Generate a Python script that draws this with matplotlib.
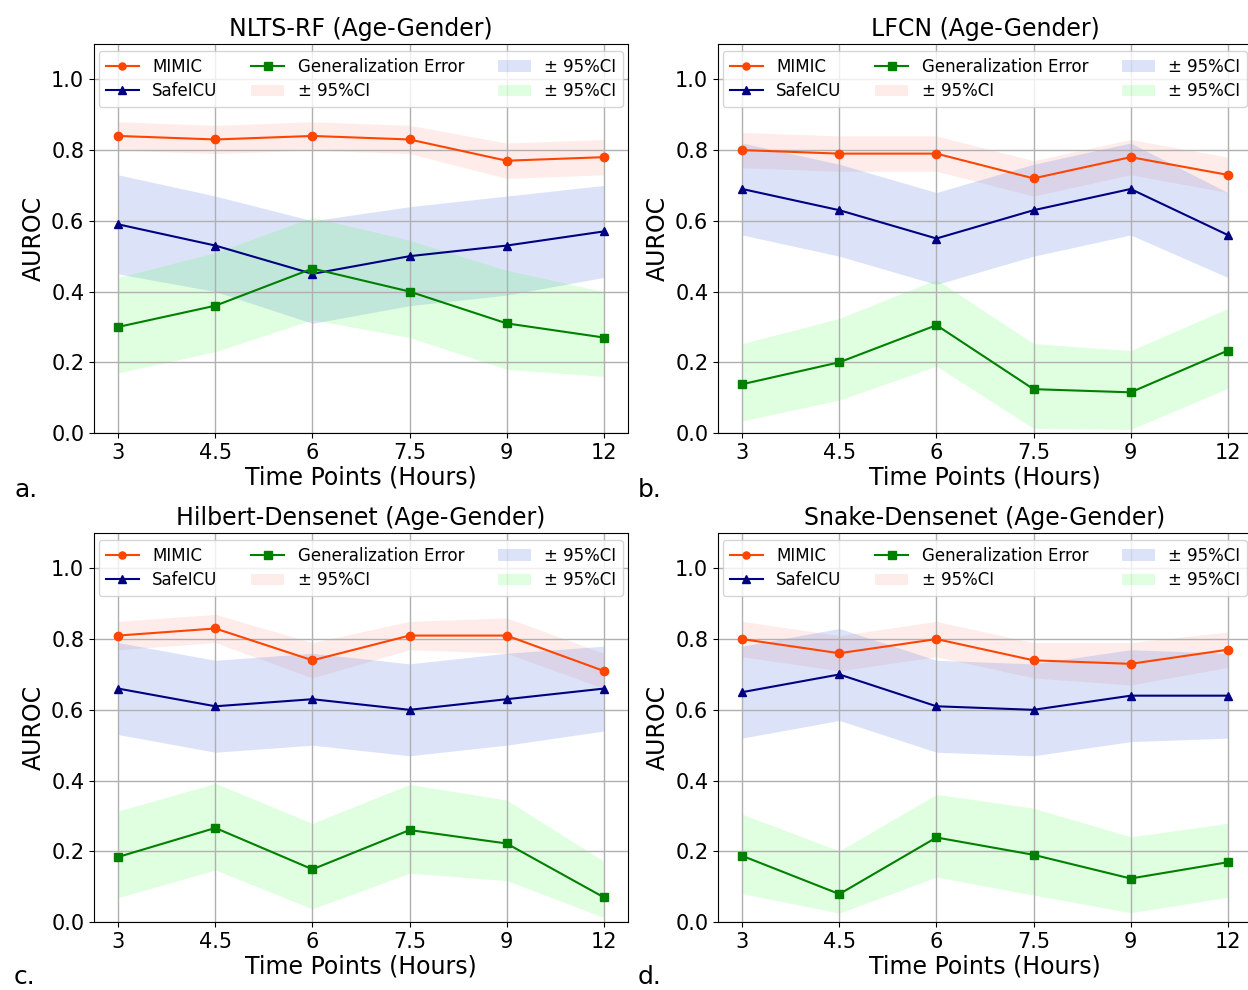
import numpy as np
import matplotlib
matplotlib.use("Agg")
import matplotlib.pyplot as plt

# x축: 시간 포인트 (범주형으로 등간격 배치)
time_labels = ['3', '4.5', '6', '7.5', '9', '12']

titles = ['NLTS-RF (Age-Gender)', 'LFCN (Age-Gender)',
          'Hilbert-Densenet (Age-Gender)', 'Snake-Densenet (Age-Gender)']
panel_tags = ['a.', 'b.', 'c.', 'd.']

# MIMIC AUROC 및 95% CI
mimic = [[0.84, 0.83, 0.84, 0.83, 0.77, 0.78],
         [0.80, 0.79, 0.79, 0.72, 0.78, 0.73],
         [0.81, 0.83, 0.74, 0.81, 0.81, 0.71],
         [0.80, 0.76, 0.80, 0.74, 0.73, 0.77]]
mimic_lo = [[0.80, 0.79, 0.80, 0.79, 0.72, 0.73],
            [0.75, 0.74, 0.74, 0.67, 0.73, 0.68],
            [0.77, 0.79, 0.69, 0.77, 0.76, 0.66],
            [0.75, 0.71, 0.75, 0.69, 0.67, 0.72]]
mimic_hi = [[0.88, 0.87, 0.88, 0.87, 0.82, 0.83],
            [0.85, 0.84, 0.84, 0.77, 0.83, 0.78],
            [0.85, 0.87, 0.79, 0.85, 0.86, 0.76],
            [0.85, 0.81, 0.85, 0.79, 0.79, 0.82]]

# SafeICU AUROC 및 95% CI
safe = [[0.59, 0.53, 0.45, 0.50, 0.53, 0.57],
        [0.69, 0.63, 0.55, 0.63, 0.69, 0.56],
        [0.66, 0.61, 0.63, 0.60, 0.63, 0.66],
        [0.65, 0.70, 0.61, 0.60, 0.64, 0.64]]
safe_lo = [[0.45, 0.40, 0.31, 0.36, 0.39, 0.44],
           [0.56, 0.50, 0.42, 0.50, 0.56, 0.44],
           [0.53, 0.48, 0.50, 0.47, 0.50, 0.54],
           [0.52, 0.57, 0.48, 0.47, 0.51, 0.52]]
safe_hi = [[0.73, 0.67, 0.60, 0.64, 0.67, 0.70],
           [0.82, 0.76, 0.68, 0.76, 0.82, 0.68],
           [0.79, 0.74, 0.76, 0.73, 0.76, 0.78],
           [0.78, 0.83, 0.74, 0.73, 0.77, 0.76]]

# Generalization Error 및 95% CI
gen = [[0.30, 0.36, 0.465, 0.40, 0.31, 0.27],
       [0.138, 0.20, 0.305, 0.124, 0.115, 0.233],
       [0.184, 0.266, 0.149, 0.26, 0.222, 0.07],
       [0.187, 0.079, 0.239, 0.19, 0.123, 0.169]]
gen_lo = [[0.17, 0.23, 0.32, 0.27, 0.18, 0.16],
          [0.034, 0.093, 0.189, 0.013, 0.01, 0.126],
          [0.069, 0.147, 0.037, 0.138, 0.117, 0.013],
          [0.08, 0.025, 0.127, 0.076, 0.026, 0.07]]
gen_hi = [[0.44, 0.51, 0.61, 0.545, 0.46, 0.40],
          [0.253, 0.324, 0.434, 0.253, 0.233, 0.352],
          [0.314, 0.392, 0.279, 0.389, 0.345, 0.172],
          [0.305, 0.201, 0.361, 0.322, 0.241, 0.279]]

fig = plt.figure(figsize=(12.48, 9.9), dpi=100)
W, H = 1248, 990
# 각 subplot의 위치 (픽셀 기준 좌/상)
boxes = [(94, 44), (718, 44), (94, 533), (718, 533)]
aw, ah = 534, 389
# 패널 라벨(a. b. c. d.)의 세로 위치 (픽셀, 위에서부터)
tag_y = [490, 490, 977, 977]

x = np.arange(len(time_labels))
for i in range(4):
    left, top = boxes[i]
    ax = fig.add_axes([left / W, 1 - (top + ah) / H, aw / W, ah / H])

    l1, = ax.plot(x, mimic[i], color='orangered', marker='o', markersize=6, lw=1.5)
    l2, = ax.plot(x, safe[i], color='navy', marker='^', markersize=6, lw=1.5)
    l3, = ax.plot(x, gen[i], color='green', marker='s', markersize=6, lw=1.5)
    f1 = ax.fill_between(x, mimic_lo[i], mimic_hi[i], color='salmon', alpha=0.15, lw=0)
    f2 = ax.fill_between(x, safe_lo[i], safe_hi[i], color='royalblue', alpha=0.18, lw=0)
    f3 = ax.fill_between(x, gen_lo[i], gen_hi[i], color='lime', alpha=0.12, lw=0)

    ax.set_xlim(-0.25, 5.25)
    ax.set_ylim(0, 1.1)
    ax.set_xticks(x)
    ax.set_xticklabels(time_labels)
    ax.set_yticks([0.0, 0.2, 0.4, 0.6, 0.8, 1.0])
    ax.tick_params(labelsize=15)
    ax.grid(True, color='#b0b0b0', lw=1.0)
    ax.set_title(titles[i], fontsize=17)
    ax.set_xlabel('Time Points (Hours)', fontsize=17, labelpad=2)
    ax.set_ylabel('AUROC', fontsize=17)
    ax.legend([l1, l2, l3, f1, f2, f3],
              ['MIMIC', 'SafeICU', 'Generalization Error', '± 95%CI', '± 95%CI', '± 95%CI'],
              ncol=3, mode='expand', loc='upper left',
              bbox_to_anchor=(0.0, 0.0, 1.0, 0.995), fontsize=12,
              borderaxespad=0.3, handlelength=2.0, markerscale=0.85,
              labelspacing=0.4)
    fig.text((left - 80) / W, 1 - tag_y[i] / H, panel_tags[i], fontsize=18, va='center')

plt.savefig('out.png', dpi=100)
